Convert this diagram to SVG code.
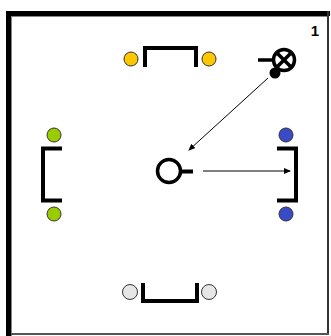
<svg xmlns="http://www.w3.org/2000/svg" width="331" height="336" viewBox="0 0 331 336">
<style>
.port{stroke:#333;stroke-width:1}
.br{fill:none;stroke:#000;stroke-width:4;stroke-linecap:butt;stroke-linejoin:miter}
.conn{stroke:#000;stroke-width:1;fill:none}
.lbl{font-family:"Liberation Sans",Arial,sans-serif;font-size:15px;font-weight:bold;fill:#000}
</style>
<defs>
<marker id="ah" markerWidth="7" markerHeight="6" refX="6" refY="3" orient="auto" markerUnits="userSpaceOnUse">
<path d="M0,0 L7,3 L0,6 Z" fill="#000"/>
</marker>
</defs>
<rect x="0" y="0" width="331" height="336" fill="#fff"/>
<g id="frame">
<rect x="6" y="11" width="324" height="5" fill="#000"/>
<rect x="6" y="11" width="5" height="325" fill="#000"/>
<rect x="11" y="16" width="1" height="320" fill="#888"/>
<rect x="12" y="16" width="316" height="1" fill="#888"/>
<rect x="327" y="11" width="2" height="324" fill="#333"/>
<rect x="11" y="333" width="318" height="2" fill="#555"/>
<text class="lbl" x="319" y="36" text-anchor="end">1</text>
</g>
<g id="node-top">
<path class="br" d="M145,67 V48 H196 V67"/>
<circle class="port" cx="131" cy="59" r="7" fill="#FFC700"/>
<circle class="port" cx="209" cy="59" r="7" fill="#FFC700"/>
</g>
<g id="node-left">
<path class="br" d="M62,148.5 H43 V200.5 H62"/>
<circle class="port" cx="54" cy="135" r="7" fill="#9ACD00"/>
<circle class="port" cx="54" cy="214" r="7" fill="#9ACD00"/>
</g>
<g id="node-right">
<path class="br" d="M277,148.5 H296 V200.5 H277"/>
<circle class="port" cx="286" cy="135" r="7" fill="#3A4BC8"/>
<circle class="port" cx="286" cy="214" r="7" fill="#3A4BC8"/>
</g>
<g id="node-bottom">
<path class="br" d="M143,283 V301 H197 V283"/>
<circle class="port" cx="130" cy="292" r="7.5" fill="#E6E6E6"/>
<circle class="port" cx="209" cy="292" r="7.5" fill="#E6E6E6"/>
</g>
<g id="node-center">
<circle cx="169" cy="171" r="11.5" fill="none" stroke="#000" stroke-width="3.5"/>
<line x1="180" y1="171.5" x2="193" y2="171.5" stroke="#000" stroke-width="4"/>
</g>
<g id="node-valve">
<circle cx="284" cy="60" r="10.5" fill="none" stroke="#000" stroke-width="3.5"/>
<line x1="277.5" y1="53.5" x2="290.5" y2="66.5" stroke="#000" stroke-width="3.5"/>
<line x1="290.5" y1="53.5" x2="277.5" y2="66.5" stroke="#000" stroke-width="3.5"/>
<line x1="258" y1="60" x2="273" y2="60" stroke="#000" stroke-width="3.5"/>
<circle cx="275" cy="73" r="5.5" fill="#000"/>
</g>
<g id="connectors">
<line class="conn" x1="268" y1="78" x2="189" y2="150" marker-end="url(#ah)"/>
<line class="conn" x1="203" y1="171" x2="290" y2="171" marker-end="url(#ah)"/>
</g>
</svg>
